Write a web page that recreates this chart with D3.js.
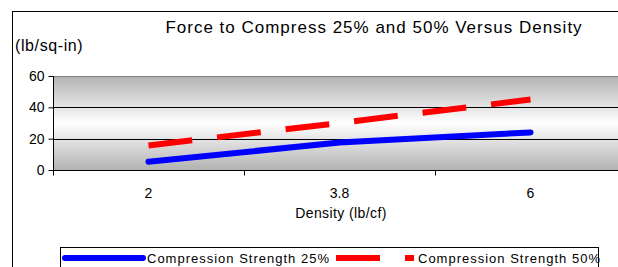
<!DOCTYPE html>
<html>
<head>
<meta charset="utf-8">
<script src="https://cdn.jsdelivr.net/npm/d3@7"></script>
<style>
  body { margin: 0; background: #fff; }
  svg { display: block; font-family: "Liberation Sans", Arial, sans-serif; }
</style>
</head>
<body>
<script>
// Chart data
var categories = ["2", "3.8", "6"];
var strength25 = [5.3, 17.5, 24];
var strength50 = [15.7, 30, 45];
var yTicks = [0, 20, 40, 60];
var seriesNames = ["Compression Strength 25%", "Compression Strength 50%"];

var width = 618,
    height = 267;

var svg = d3.select("body").append("svg")
    .attr("width", width)
    .attr("height", height);

// Plot area bounds
var plotLeft = 53, plotRight = 626, plotTop = 76, plotBottom = 170;

var x = d3.scaleBand()
    .domain(categories)
    .range([plotLeft, plotRight]);

var y = d3.scaleLinear()
    .domain([0, 60])
    .range([plotBottom, plotTop]);

// Gray to white to gray fill
var grad = svg.append("defs").append("linearGradient")
    .attr("id", "plotFill")
    .attr("x1", 0).attr("y1", 0).attr("x2", 0).attr("y2", 1);
grad.append("stop").attr("offset", "0%").attr("stop-color", "#b2b2b2");
grad.append("stop").attr("offset", "50%").attr("stop-color", "#ffffff");
grad.append("stop").attr("offset", "100%").attr("stop-color", "#b2b2b2");

// Outer chart border
svg.append("rect")
    .attr("x", 12.5).attr("y", 11.5)
    .attr("width", 700).attr("height", 400)
    .attr("fill", "none")
    .attr("stroke", "#000");

// Plot area
svg.append("rect")
    .attr("x", plotLeft).attr("y", plotTop)
    .attr("width", plotRight - plotLeft).attr("height", plotBottom - plotTop)
    .attr("fill", "url(#plotFill)");
svg.append("line")
    .attr("x1", plotLeft).attr("x2", plotRight)
    .attr("y1", plotTop + 0.5).attr("y2", plotTop + 0.5)
    .attr("stroke", "#808080");

// Gridlines
svg.append("g")
    .selectAll("line")
    .data(yTicks.filter(function(d) { return d > 0 && d < 60; }))
    .enter()
    .append("line")
    .attr("x1", plotLeft).attr("x2", plotRight)
    .attr("y1", function(d) { return Math.round(y(d)) + 0.5; })
    .attr("y2", function(d) { return Math.round(y(d)) + 0.5; })
    .attr("stroke", "#000");

// Y axis
var yAxis = svg.append("g")
    .attr("transform", "translate(" + (plotLeft + 0.5) + ",0)")
    .call(d3.axisLeft(y).tickValues(yTicks).tickSize(5).tickPadding(4));
yAxis.select(".domain").attr("stroke", "#000").attr("d", "M0," + plotTop + "V" + (plotBottom + 0.5));
yAxis.selectAll(".tick line").attr("stroke", "#000");
yAxis.selectAll("text")
    .attr("font-size", "14px")
    .attr("fill", "#000")
    .attr("font-family", null);

// X axis, ticks between categories
var xAxis = svg.append("g")
    .attr("transform", "translate(0," + (plotBottom + 0.5) + ")");
xAxis.append("line")
    .attr("x1", plotLeft).attr("x2", plotRight)
    .attr("stroke", "#000");
xAxis.selectAll(".tk")
    .data(categories)
    .enter()
    .append("line")
    .attr("class", "tk")
    .attr("x1", function(d) { return Math.round(x(d)) + 0.5; })
    .attr("x2", function(d) { return Math.round(x(d)) + 0.5; })
    .attr("y1", 0).attr("y2", 5)
    .attr("stroke", "#000");
xAxis.selectAll("text")
    .data(categories)
    .enter()
    .append("text")
    .attr("x", function(d) { return x(d) + x.bandwidth() / 2; })
    .attr("y", 27)
    .attr("text-anchor", "middle")
    .attr("font-size", "14px")
    .text(function(d) { return d; });

// Lines
var line = d3.line()
    .x(function(d, i) { return x(categories[i]) + x.bandwidth() / 2; })
    .y(function(d) { return y(d); });

svg.append("path")
    .datum(strength25)
    .attr("d", line)
    .attr("fill", "none")
    .attr("stroke", "#0000ff")
    .attr("stroke-width", 6)
    .attr("stroke-linecap", "round")
    .attr("stroke-linejoin", "round");

svg.append("path")
    .datum(strength50)
    .attr("d", line)
    .attr("fill", "none")
    .attr("stroke", "#ff0000")
    .attr("stroke-width", 6)
    .attr("stroke-dasharray", "44,25");

// Titles
svg.append("text")
    .attr("x", 374).attr("y", 33)
    .attr("text-anchor", "middle")
    .attr("font-size", "17px")
    .attr("letter-spacing", "1px")
    .text("Force to Compress 25% and 50% Versus Density");

svg.append("text")
    .attr("x", 15).attr("y", 51)
    .attr("font-size", "16px")
    .attr("letter-spacing", "0.6px")
    .text("(lb/sq-in)");

svg.append("text")
    .attr("x", 341).attr("y", 218)
    .attr("text-anchor", "middle")
    .attr("font-size", "14px")
    .attr("letter-spacing", "0.4px")
    .text("Density (lb/cf)");

// Legend
var legend = svg.append("g");
legend.append("rect")
    .attr("x", 60.5).attr("y", 247.5)
    .attr("width", 538).attr("height", 60)
    .attr("fill", "#fff")
    .attr("stroke", "#000");

var legendItems = [
  { name: seriesNames[0], color: "#0000ff", x0: 65, dash: null, cap: "round" },
  { name: seriesNames[1], color: "#ff0000", x0: 336, dash: "44,25", cap: "butt" }
];
legendItems.forEach(function(d) {
  legend.append("line")
      .attr("x1", d.x0).attr("x2", d.x0 + 78)
      .attr("y1", 258).attr("y2", 258)
      .attr("stroke", d.color)
      .attr("stroke-width", 6)
      .attr("stroke-linecap", d.cap)
      .attr("stroke-dasharray", d.dash);
  legend.append("text")
      .attr("x", d.x0 + 82).attr("y", 263)
      .attr("font-size", "13px")
      .attr("letter-spacing", "1px")
      .text(d.name);
});
</script>
</body>
</html>
